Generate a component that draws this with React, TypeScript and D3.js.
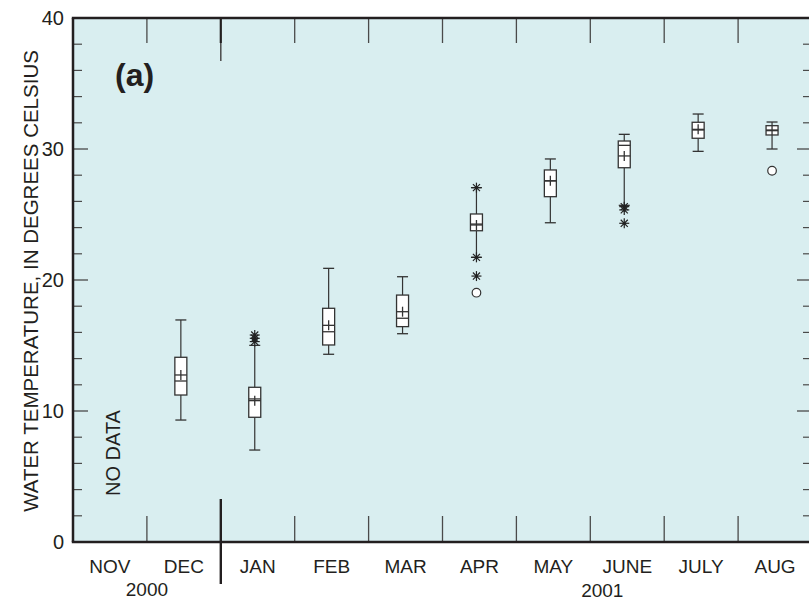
import React from "react";
import * as d3 from "d3";

const months = ["NOV", "DEC", "JAN", "FEB", "MAR", "APR", "MAY", "JUNE", "JULY", "AUG"];
const boxMonths = ["DEC", "JAN", "FEB", "MAR", "APR", "MAY", "JUNE", "JULY", "AUG"];
const whiskerLow = [9.31, 7.02, 14.33, 15.9, 21.73, 24.37, 25.7, 29.82, 30.0];
const q1 = [11.22, 9.52, 15.04, 16.44, 23.76, 26.36, 28.57, 30.82, 31.07];
const median = [12.29, 10.92, 16.05, 17.08, 24.27, 27.56, 30.28, 31.45, 31.4];
const mean = [12.75, 10.79, 16.54, 17.58, 24.2, 27.58, 29.47, 31.5, 31.45];
const q3 = [14.1, 11.81, 17.84, 18.85, 25.04, 28.4, 30.61, 32.04, 31.78];
const whiskerHigh = [16.95, 15.01, 20.89, 20.25, 27.05, 29.24, 31.12, 32.67, 32.06];

const starMonths = ["JAN", "JAN", "JAN", "APR", "APR", "APR", "JUNE", "JUNE", "JUNE"];
const starValues = [15.3, 15.55, 15.8, 27.05, 21.73, 20.3, 25.6, 25.35, 24.33];
const circleMonths = ["APR", "AUG"];
const circleValues = [19.03, 28.34];

const yMajorTicks = [0, 10, 20, 30, 40];
const yMinorTicks = [2, 4, 6, 8, 12, 14, 16, 18, 22, 24, 26, 28, 32, 34, 36, 38];
const yearLabels = ["2000", "2001"];

const W = 809;
const H = 600;
const left = 73;
const right = 812;
const top = 18;
const bottom = 542;
const FONT = "'Liberation Sans', Arial, Helvetica, sans-serif";
const BG = "#d9eef0";
const AXIS = "#231f20";
const TICK = "#4a4a4a";
const BOXC = "#333";

function Star({ cx, cy }: { cx: number; cy: number }) {
  const r = 5;
  const angles = [0, 45, 90, 135];
  return (
    <g>
      {angles.map((a, i) => {
        const rad = (a * Math.PI) / 180;
        return (
          <line
            key={i}
            x1={cx - r * Math.cos(rad)}
            y1={cy - r * Math.sin(rad)}
            x2={cx + r * Math.cos(rad)}
            y2={cy + r * Math.sin(rad)}
            stroke="#222"
            strokeWidth={1.2}
          />
        );
      })}
      <circle cx={cx} cy={cy} r={1.6} fill="#222" />
    </g>
  );
}

export default function App() {
  const x = d3.scaleBand<string>().domain(months).range([left, right]).paddingInner(0).paddingOuter(0);
  const y = d3.scaleLinear().domain([0, 40]).range([bottom, top]);
  const bw = x.bandwidth();
  const boxOffset = -3;
  const boxW = 12;
  const cxOf = (m: string) => (x(m) as number) + bw / 2 + boxOffset;
  const boundaries = months.slice(1).map((m) => x(m) as number);
  const sep = x("JAN") as number;

  return (
    <svg
      width={W}
      height={H}
      style={{ position: "absolute", left: 0, top: 0, fontFamily: FONT }}
    >
      <rect x={left} y={top} width={right - left} height={bottom - top} fill={BG} />

      {yMinorTicks.map((t) => (
        <g key={"mn" + t}>
          <line x1={left} x2={left + 9} y1={y(t)} y2={y(t)} stroke={TICK} strokeWidth={1.2} />
          <line x1={right} x2={right - 9} y1={y(t)} y2={y(t)} stroke={TICK} strokeWidth={1.2} />
        </g>
      ))}
      {yMajorTicks.filter((t) => t > 0 && t < 40).map((t) => (
        <g key={"mj" + t}>
          <line x1={left} x2={left + 15} y1={y(t)} y2={y(t)} stroke={TICK} strokeWidth={1.3} />
          <line x1={right} x2={right - 15} y1={y(t)} y2={y(t)} stroke={TICK} strokeWidth={1.3} />
        </g>
      ))}
      {yMajorTicks.map((t) => (
        <text
          key={"yl" + t}
          x={64}
          y={y(t)}
          dy="0.35em"
          textAnchor="end"
          fontSize={20}
          fill="#231f20"
        >
          {t}
        </text>
      ))}

      {boundaries.map((b) =>
        b === sep ? null : (
          <g key={"b" + b}>
            <line x1={b} x2={b} y1={top} y2={top + 25} stroke={TICK} strokeWidth={1.3} />
            <line x1={b} x2={b} y1={bottom} y2={bottom - 26} stroke={TICK} strokeWidth={1.3} />
          </g>
        )
      )}
      <line x1={sep} x2={sep} y1={top} y2={top + 25} stroke={AXIS} strokeWidth={2.2} />
      <line x1={sep} x2={sep} y1={top + 25} y2={top + 43} stroke={TICK} strokeWidth={1.5} />
      <line x1={sep} x2={sep} y1={499} y2={584} stroke={AXIS} strokeWidth={2.4} />

      {boxMonths.map((m, i) => {
        const cx = cxOf(m);
        return (
          <g key={"box" + m}>
            <line x1={cx} x2={cx} y1={y(whiskerHigh[i])} y2={y(q3[i])} stroke={BOXC} strokeWidth={1.2} />
            <line x1={cx} x2={cx} y1={y(whiskerLow[i])} y2={y(q1[i])} stroke={BOXC} strokeWidth={1.2} />
            <line x1={cx - boxW / 2 + 0.5} x2={cx + boxW / 2 - 0.5} y1={y(whiskerHigh[i])} y2={y(whiskerHigh[i])} stroke={BOXC} strokeWidth={1.3} />
            <line x1={cx - boxW / 2 + 0.5} x2={cx + boxW / 2 - 0.5} y1={y(whiskerLow[i])} y2={y(whiskerLow[i])} stroke={BOXC} strokeWidth={1.3} />
            <rect
              x={cx - boxW / 2}
              y={y(q3[i])}
              width={boxW}
              height={y(q1[i]) - y(q3[i])}
              fill="#fff"
              stroke={BOXC}
              strokeWidth={1.3}
            />
            <line x1={cx - boxW / 2} x2={cx + boxW / 2} y1={y(median[i])} y2={y(median[i])} stroke={BOXC} strokeWidth={1.3} />
            <line x1={cx - boxW / 2} x2={cx + boxW / 2} y1={y(mean[i])} y2={y(mean[i])} stroke={BOXC} strokeWidth={1.3} />
            <line x1={cx} x2={cx} y1={y(mean[i]) - 5} y2={y(mean[i]) + 5} stroke={BOXC} strokeWidth={1.3} />
          </g>
        );
      })}

      {starValues.map((v, i) => (
        <Star key={"s" + i} cx={cxOf(starMonths[i])} cy={y(v)} />
      ))}
      {circleValues.map((v, i) => (
        <circle key={"c" + i} cx={cxOf(circleMonths[i])} cy={y(v)} r={4.3} fill="#fff" stroke="#333" strokeWidth={1.2} />
      ))}

      <line x1={left - 1.2} x2={right} y1={top} y2={top} stroke={AXIS} strokeWidth={2.5} />
      <line x1={left - 1.2} x2={right} y1={bottom} y2={bottom} stroke={AXIS} strokeWidth={2.5} />
      <line x1={left} x2={left} y1={top} y2={bottom} stroke={AXIS} strokeWidth={2.5} />

      {months.map((m) => (
        <text key={"ml" + m} x={(x(m) as number) + bw / 2} y={573} textAnchor="middle" fontSize={19} fill="#231f20">
          {m}
        </text>
      ))}
      <text x={x("DEC") as number} y={596} textAnchor="middle" fontSize={19} fill="#231f20">
        {yearLabels[0]}
      </text>
      <text x={(x("JUNE") as number) + 12} y={597} textAnchor="middle" fontSize={19} fill="#231f20">
        {yearLabels[1]}
      </text>

      <text x={115} y={86} fontSize={32} fontWeight="bold" fill="#231f20">
        (a)
      </text>
      <text
        transform={`translate(120,453) rotate(-90)`}
        textAnchor="middle"
        fontSize={20}
        fill="#231f20"
      >
        NO DATA
      </text>
      <text
        transform={`translate(38,281) rotate(-90)`}
        textAnchor="middle"
        fontSize={20.5}
        fill="#231f20"
      >
        WATER TEMPERATURE, IN DEGREES CELSIUS
      </text>
    </svg>
  );
}
